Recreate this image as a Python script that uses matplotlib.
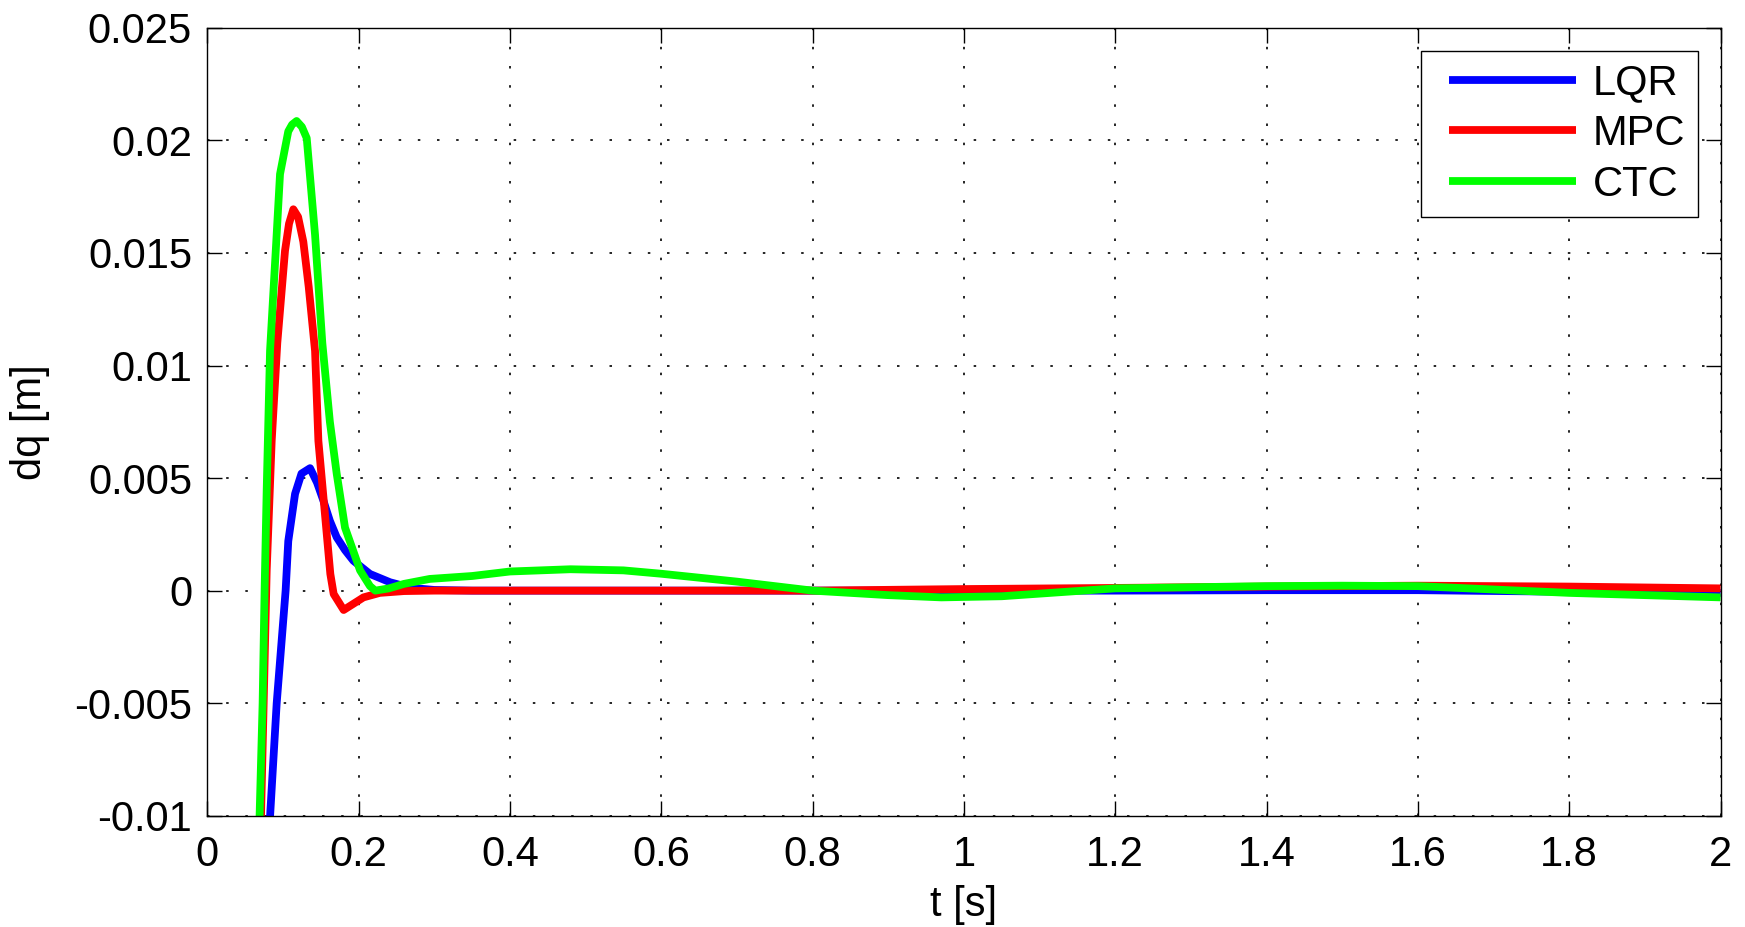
import matplotlib
matplotlib.use("Agg")
import matplotlib.pyplot as plt
from matplotlib.legend_handler import HandlerLine2D

plt.rcParams['font.family'] = ['Liberation Sans', 'DejaVu Sans']

# LQR response
t_lqr = [0.0805, 0.083, 0.0917, 0.1035, 0.107, 0.116, 0.1245, 0.1358, 0.145, 0.1534,
         0.162, 0.171, 0.182, 0.193, 0.215, 0.2417, 0.27, 0.30, 0.35, 1.0, 1.2, 1.4,
         1.6, 1.8, 2.0]
dq_lqr = [-0.0115, -0.010, -0.005, 0.0, 0.0022, 0.0043, 0.0052, 0.00544, 0.0048, 0.0040,
          0.0031, 0.00237, 0.0018, 0.00133, 0.00074, 0.00037, 0.00012, 0.00003, 0.0, 0.0,
          0.0, 0.00002, 0.00002, -0.00005, -0.0001]

# MPC response
t_mpc = [0.0695, 0.071, 0.0745, 0.0785, 0.0851, 0.0925, 0.1027, 0.108, 0.1137, 0.120,
         0.1269, 0.134, 0.1424, 0.1468, 0.1626, 0.167, 0.1802, 0.2064, 0.228, 0.26, 0.3,
         0.8, 1.0, 1.2, 1.4, 1.6, 1.8, 2.0]
dq_mpc = [-0.0115, -0.010, -0.005, 0.0009, 0.00665, 0.011, 0.0151, 0.0163, 0.01694, 0.0166,
          0.0155, 0.0135, 0.01065, 0.00665, 0.00074, -0.00015, -0.00086, -0.0003, -0.0001,
          -0.00002, 0.0, 0.0, 0.00007, 0.00012, 0.00018, 0.00022, 0.00018, 0.0001]

# CTC response
t_ctc = [0.0685, 0.0691, 0.0731, 0.0757, 0.0785, 0.0829, 0.0908, 0.0961, 0.107, 0.112,
         0.118, 0.125, 0.1314, 0.1424, 0.152, 0.162, 0.171, 0.182, 0.2019, 0.215, 0.222,
         0.24, 0.26, 0.294, 0.35, 0.4, 0.48, 0.55, 0.6, 0.7, 0.8, 0.9, 0.97, 1.05, 1.2,
         1.4, 1.5, 1.6, 1.8, 2.0]
dq_ctc = [-0.0115, -0.010, -0.005, 0.0, 0.0045, 0.01065, 0.0153, 0.0185, 0.0204, 0.0207,
          0.02086, 0.0206, 0.0201, 0.0158, 0.011, 0.0075, 0.0052, 0.0028, 0.0009, 0.0002,
          0.0, 0.0001, 0.0003, 0.00052, 0.00065, 0.00085, 0.00095, 0.0009, 0.00075, 0.0004,
          0.0, -0.0002, -0.0003, -0.00025, 0.0001, 0.0002, 0.00022, 0.0002, -0.0001, -0.0003]

x_ticks = [0, 0.2, 0.4, 0.6, 0.8, 1, 1.2, 1.4, 1.6, 1.8, 2]
x_labels = ["0", "0.2", "0.4", "0.6", "0.8", "1", "1.2", "1.4", "1.6", "1.8", "2"]
y_ticks = [-0.01, -0.005, 0, 0.005, 0.01, 0.015, 0.02, 0.025]
y_labels = ["-0.01", "-0.005", "0", "0.005", "0.01", "0.015", "0.02", "0.025"]

fs = 30
fig = plt.figure(figsize=(17.45, 9.27), dpi=100)
ax = fig.add_axes([0.1188, 0.12, 0.8672, 0.85])

line_kw = dict(lw=5.6, solid_joinstyle='round', solid_capstyle='butt')
ax.plot(t_lqr, dq_lqr, color=(0, 0, 1), label="LQR", **line_kw)
ax.plot(t_mpc, dq_mpc, color=(1, 0, 0), label="MPC", **line_kw)
ax.plot(t_ctc, dq_ctc, color=(0, 1, 0), label="CTC", **line_kw)

ax.set_xlim(0, 2)
ax.set_ylim(-0.01, 0.025)
ax.set_xticks(x_ticks)
ax.set_xticklabels(x_labels)
ax.set_yticks(y_ticks)
ax.set_yticklabels(y_labels)
ax.tick_params(direction='in', length=11, width=1, top=True, right=True, labelsize=fs)
ax.tick_params(axis='y', pad=11)
ax.tick_params(axis='x', pad=14)
for s in ax.spines.values():
    s.set_linewidth(1)
ax.grid(True, color='black', lw=1.2, linestyle=(0, (1.5, 10)))

ax.set_xlabel("t [s]", fontsize=fs, labelpad=7)
ax.set_ylabel("dq [m]", fontsize=fs, labelpad=17)

# pad the handle a little from the left of the frame
hpad = 0.37
leg = ax.legend(loc='upper right', fontsize=fs, handlelength=3.05 + hpad, handletextpad=0.4,
                labelspacing=0.26, borderpad=0.3, borderaxespad=0.55, fancybox=False,
                framealpha=1, handler_map={plt.Line2D: HandlerLine2D(xpad=hpad)})
leg.get_frame().set_edgecolor('black')
leg.get_frame().set_linewidth(1)

fig.savefig("out.png", dpi=100, facecolor='white')
